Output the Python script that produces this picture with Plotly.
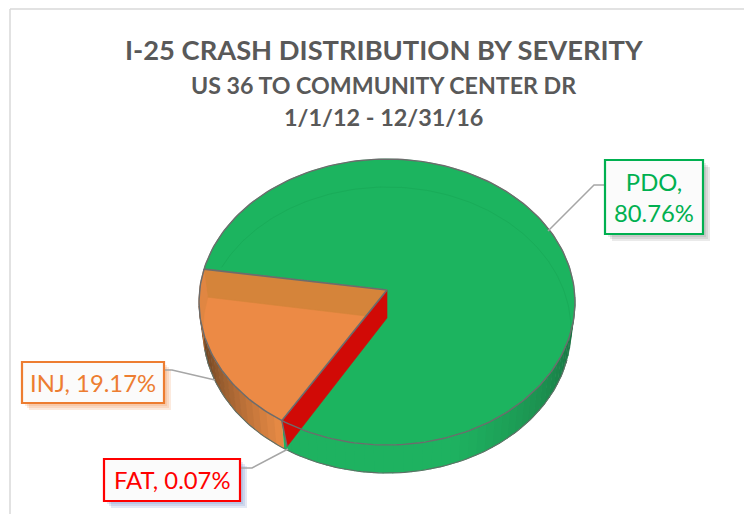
import numpy as np
import plotly.graph_objects as go

# Data
categories = ["FAT", "INJ", "PDO"]
shares = [0.07, 19.17, 80.76]
label_text = ["FAT, 0.07%", "INJ, 19.17%", "PDO,<br>80.76%"]
title_lines = ["I-25 CRASH DISTRIBUTION BY SEVERITY", "US 36 TO COMMUNITY CENTER DR", "1/1/12 - 12/31/16"]

# Pie projection (canvas-unit axes, 3-D look)
FIRST_ANGLE = 214.0
CX, CY_TOP, RX_TOP, RY = 387.0, 302.0, 188.0, 143.0
CY_LOW, RX_LOW = 330.0, 184.0
APEX = (387.0, 290.0)
DEPTH = 28.0

GREEN, ORANGE, RED = "#1cb45f", "#ec8a45", "#d10a06"
EDGE = "#6c6c6c"

ends = FIRST_ANGLE + np.cumsum(np.array(shares)) * 3.6
starts = np.concatenate([[FIRST_ANGLE], ends[:-1]])
fat_a, inj_a, pdo_a = starts
inj_end = ends[1]
pdo_end = ends[2]


def rim(t, low=False):
    t = np.radians(np.asarray(t, dtype=float))
    if low:
        return CX + RX_LOW * np.sin(t), CY_LOW - RY * np.cos(t)
    return CX + RX_TOP * np.sin(t), CY_TOP - RY * np.cos(t)


def poly(xs, ys, color, line=None, width=0):
    return go.Scatter(x=list(xs), y=list(ys), mode="lines", fill="toself", fillcolor=color,
                      line=dict(color=line or color, width=width if line else 0.6),
                      hoverinfo="skip", showlegend=False)


def stroke(xs, ys, color=EDGE, width=1.4):
    return go.Scatter(x=list(xs), y=list(ys), mode="lines", line=dict(color=color, width=width),
                      hoverinfo="skip", showlegend=False)


def mix(a, b, f):
    return "rgb(%d,%d,%d)" % tuple(round(a[i] + (b[i] - a[i]) * f) for i in range(3))


fig = go.Figure()

# side wall strips
for lo in np.arange(88, 214, 3):
    t = np.linspace(lo, min(lo + 3.4, fat_a), 4)
    xa, ya = rim(t)
    xb, yb = rim(t, True)
    f = min(1, (lo - 88) / 70) ** 0.8
    fig.add_trace(poly(np.r_[xa, xb[::-1]], np.r_[ya, yb[::-1]], mix((24, 100, 58), (30, 178, 96), f)))
for lo in np.arange(214, 268, 3):
    t = np.linspace(lo, lo + 3.4, 4)
    xa, ya = rim(t)
    xb, yb = rim(t, True)
    f = min(1, (lo - 214) / 48)
    fig.add_trace(poly(np.r_[xa, xb[::-1]], np.r_[ya, yb[::-1]], mix((229, 137, 68), (92, 58, 30), f)))

# top faces
t = np.linspace(inj_end, pdo_end, 240)
x, y = rim(t)
fig.add_trace(poly(np.r_[APEX[0], x], np.r_[APEX[1], y], GREEN))

# faint far edge of the lower rim
t = np.linspace(296, 450, 120)
fig.add_trace(stroke(*rim(t, True), color="#19ac59", width=1))

t = np.linspace(inj_a, inj_end, 80)
x, y = rim(t)
fig.add_trace(poly(np.r_[APEX[0], x], np.r_[APEX[1], y], ORANGE))

# slightly darker rim zone on the left of the orange slice
t = np.linspace(262, inj_end, 20)
xa, ya = rim(t)
xb, yb = rim(t, True)
fig.add_trace(poly(np.r_[xa, xb[::-1]], np.r_[ya, yb[::-1]], "#e08642"))

# back wall seen through the orange slice
rx0, ry0 = rim(inj_a)
sx = APEX[0] + (rx0 - APEX[0]) * (DEPTH - 2) / (ry0 - APEX[1])
sy = APEX[1] + DEPTH - 2
ex, ey = rim(inj_end)
bx, by = rim(inj_end, True)
fig.add_trace(poly([ex, APEX[0], sx, bx], [ey, APEX[1], sy, by], "#d5843a"))

# red cut wall and tiny FAT slice
fx, fy = rim(fat_a)
gx, gy = rim(fat_a, True)
fig.add_trace(poly([APEX[0], APEX[0], gx + 3, fx], [APEX[1], APEX[1] + DEPTH, gy - 2, fy], RED))

# outlines
t = np.linspace(fat_a - 360, inj_end, 300)
fig.add_trace(stroke(*rim(t), width=1.4))
t = np.linspace(102, 262, 120)
fig.add_trace(stroke(*rim(t, True), color="#5f6f66", width=1.1))
fig.add_trace(stroke([ex, APEX[0], fx], [ey, APEX[1], fy], width=1.7))
fig.add_trace(stroke([fx, gx + 3], [fy, gy - 2]))

# leader lines
LEADER = "#a6a6a6"
fig.add_trace(stroke([548, 594, 605], [231, 185, 185], LEADER, 1.5))
fig.add_trace(stroke([164, 172, 215], [370, 370, 380], LEADER, 1.5))
fig.add_trace(stroke([240, 252, 288], [468, 468, 449], LEADER, 1.5))

# label boxes: (x0, y0, x1, y1, text colour, shadow)
boxes = [(104, 459, 240, 501, "#ff0000", "rgba(90,120,190,0.16)"),
         (22, 362, 164, 403, "#ed7d31", "rgba(237,125,49,0.16)"),
         (605, 160, 703, 234, "#00b050", "rgba(90,90,90,0.13)")]
shapes = [
    dict(type="line", x0=10, y0=9, x1=744, y1=9, line=dict(color="#d9d9d9", width=1.5), layer="below"),
    dict(type="line", x0=10, y0=9, x1=10, y1=514, line=dict(color="#d9d9d9", width=1.5), layer="below"),
]
annotations = []
for (x0, y0, x1, y1, c, sh), txt in zip(boxes, label_text):
    for g in (3, 5, 7):
        shapes.append(dict(type="rect", x0=x0 + g, y0=y0 + g, x1=x1 + g, y1=y1 + g,
                           fillcolor=sh, line=dict(width=0), layer="below"))
    shapes.append(dict(type="rect", x0=x0, y0=y0, x1=x1, y1=y1, fillcolor="#fbfbfb",
                       line=dict(color=c, width=2.2), layer="above"))
    annotations.append(dict(x=(x0 + x1) / 2, y=(y0 + y1) / 2, text=txt, showarrow=False, xanchor="center",
                            yanchor="middle", font=dict(family="Lato", size=23.8, color=c)))

for line, yy, size in zip(title_lines, [49, 85, 117], [27.3, 23.2, 23.4]):
    annotations.append(dict(x=384 if yy == 49 else 383, y=yy, text="<b>%s</b>" % line, showarrow=False,
                            xanchor="center", yanchor="middle",
                            font=dict(family="Lato", size=size, color="#595959")))

fig.update_layout(
    width=744, height=514, margin=dict(l=0, r=0, t=0, b=0),
    paper_bgcolor="white", plot_bgcolor="white", showlegend=False,
    xaxis=dict(range=[0, 744], visible=False, fixedrange=True),
    yaxis=dict(range=[514, 0], visible=False, fixedrange=True),
    shapes=shapes, annotations=annotations,
)
fig.write_html("out.html", config=dict(displayModeBar=False),
               post_script="document.body.style.margin='0';document.documentElement.style.overflow='hidden';")
